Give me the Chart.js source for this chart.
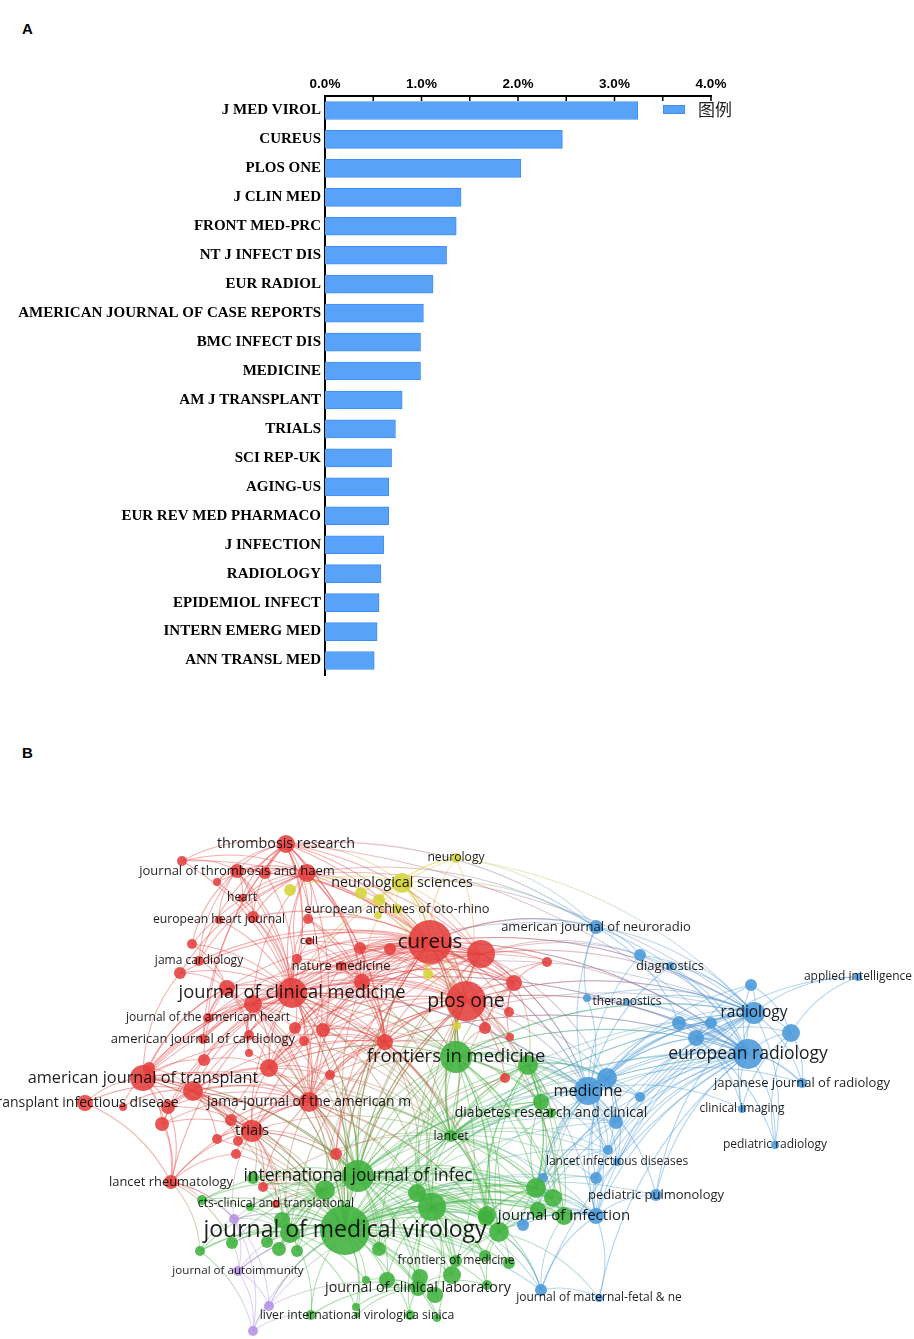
<!DOCTYPE html>
<html><head><meta charset="utf-8">
<script src="https://cdn.jsdelivr.net/npm/chart.js@4.4.1/dist/chart.umd.min.js"></script>
<style>
html,body{margin:0;padding:0;background:#fff;width:914px;height:1339px;overflow:hidden}
.tag{position:absolute;font:bold 15px "Liberation Sans",Arial,sans-serif;color:#000;line-height:18px}
#wa{position:absolute;left:0;top:0;width:914px;height:700px}
#wb{position:absolute;left:0;top:780px;width:914px;height:559px}
</style></head><body>
<div class="tag" style="left:22px;top:20px">A</div>
<div class="tag" style="left:22px;top:744px">B</div>
<div id="wa"><canvas id="ca"></canvas></div>
<div id="wb"><canvas id="cb"></canvas></div>
<script>
// ---------- Panel A data ----------
const journals = ['J MED VIROL','CUREUS','PLOS ONE','J CLIN MED','FRONT MED-PRC','NT J INFECT DIS','EUR RADIOL',
  'AMERICAN JOURNAL OF CASE REPORTS','BMC INFECT DIS','MEDICINE','AM J TRANSPLANT','TRIALS','SCI REP-UK','AGING-US',
  'EUR REV MED PHARMACO','J INFECTION','RADIOLOGY','EPIDEMIOL INFECT','INTERN EMERG MED','ANN TRANSL MED'];
const shares = [3.24,2.46,2.03,1.41,1.36,1.26,1.12,1.02,0.99,0.99,0.80,0.73,0.69,0.66,0.66,0.61,0.58,0.56,0.54,0.51];
const tickLabels = ['0.0%','1.0%','2.0%','3.0%','4.0%'];
const legendLabel = '图例';

const nodeX = [286,237,265,307,182,217,242,253,219,308, 309,360,390,430,481,547,514,199,192,180,
 341,297,362,292,227,253,466,509,485,510, 208,203,295,304,323,385,249,249,204,269,
 330,505,143,149,193,85,123,168,309,162, 231,252,217,238,236,336,171,263,276,
 456,402,361,379,397,378,290,428,457,
 596,640,670,627,587,858,751,754,791,679, 711,696,748,588,607,640,616,802,742,775, 608,617,596,656,543,596,523,541,599,
 456,528,551,541,451,358,325,417,432,487, 536,553,564,538,499,253,250,202,345,290,
 282,232,267,279,297,200,379,456,420,452, 366,387,418,435,356,357,311,410,437,486, 485,509,487,
 234,238,269,253];
const nodeY = [844,871,873,873,861,882,898,917,920,919, 941,948,949,942,954,962,983,961,944,973,
 966,959,982,993,988,1004,1001,1012,1028,1037, 1018,1039,1028,1041,1030,1042,1035,1053,1060,1068,
 1075,1078,1078,1068,1091,1103,1107,1107,1102,1124, 1120,1131,1139,1141,1154,1154,1182,1187,1204,
 858,883,893,900,909,915,890,974,1026,
 927,955,966,1002,998,977,985,1013,1033,1023, 1023,1038,1054,1091,1078,1097,1122,1083,1109,1145, 1150,1162,1178,1195,1178,1216,1225,1290,1298,
 1057,1065,1113,1102,1136,1176,1190,1193,1207,1215, 1188,1198,1216,1210,1232,1178,1207,1200,1230,1233,
 1220,1243,1242,1249,1251,1251,1249,1261,1277,1275, 1280,1280,1288,1295,1307,1315,1315,1315,1318,1218, 1256,1263,1285,
 1219,1271,1306,1331];
const nodeWeight = [9,7,6,9,5,4,4,6,4,5, 4,6,6,22,14,5,8,5,5,6,
 5,5,8,15,8,9,20,5,6,4, 5,5,6,5,7,8,5,4,6,9,
 5,5,13,6,10,8,4,7,10,7, 6,11,5,5,5,6,7,5,4,
 5,10,6,6,5,4,6,5,4,
 7,6,4,3,4,4,6,11,9,7, 6,8,15,14,10,5,7,5,4,4, 5,4,6,6,5,8,6,6,4,
 16,10,5,8,6,16,10,9,14,9, 10,9,9,8,10,6,4,5,25,10,
 8,6,6,7,6,5,7,6,8,9, 4,8,8,8,4,3,5,5,4,8, 6,6,5,
 5,5,5,5];
// 0 red, 1 green, 2 blue, 3 yellow, 4 purple
const nodeCluster = [0,0,0,0,0,0,0,0,0,0, 0,0,0,0,0,0,0,0,0,0, 0,0,0,0,0,0,0,0,0,0, 0,0,0,0,0,0,0,0,0,0,
 0,0,0,0,0,0,0,0,0,0, 0,0,0,0,0,0,0,0,0,
 3,3,3,3,3,3,3,3,3,
 2,2,2,2,2,2,2,2,2,2, 2,2,2,2,2,2,2,2,2,2, 2,2,2,2,2,2,2,2,2,
 1,1,1,1,1,1,1,1,1,1, 1,1,1,1,1,1,1,1,1,1, 1,1,1,1,1,1,1,1,1,1, 1,1,1,1,1,1,1,1,1,1, 1,1,1,
 4,4,4,4];
// labelled nodes: index -> journal name, and label font size
const nodeLabelAt = {0:'thrombosis research',1:'journal of thrombosis and haem',6:'heart',8:'european heart journal',
 10:'cell',13:'cureus',17:'jama cardiology',20:'nature medicine',23:'journal of clinical medicine',26:'plos one',
 30:'journal of the american heart',31:'american journal of cardiology',42:'american journal of transplant',
 45:'transplant infectious disease',48:'jama-journal of the american m',51:'trials',56:'lancet rheumatology',
 58:'cts-clinical and translational',59:'neurology',60:'neurological sciences',63:'european archives of oto-rhino',
 68:'american journal of neuroradio',70:'diagnostics',71:'theranostics',73:'applied intelligence',75:'radiology',
 80:'european radiology',81:'medicine',85:'japanese journal of radiology',86:'clinical imaging',87:'pediatric radiology',
 89:'lancet infectious diseases',91:'pediatric pulmonology',96:'journal of maternal-fetal & ne',97:'frontiers in medicine',
 99:'diabetes research and clinical',101:'lancet',102:'international journal of infec',109:'journal of infection',
 115:'journal of medical virology',124:'frontiers of medicine',129:'journal of clinical laboratory',
 132:'liver international virologica sinica',141:'journal of autoimmunity'};
const labelSize = {0:14.3,1:13,6:12,8:12.2,10:11.5,13:20.5,17:12,20:13,23:18.3,26:19.5,30:12,31:13,42:16.3,45:14,48:13.9,
 51:14.8,56:12.9,58:12.1,59:12.2,60:14.3,63:12.8,68:13,70:13,71:12,73:12,75:15.5,80:17.5,81:16.2,85:13,86:12,87:12,
 89:12,91:13,96:12,97:18.5,99:14,101:12.5,102:17.3,109:15,115:23,124:12,129:14.3,132:12.3,141:11.6};
// co-citation links: [node, [linked nodes]]
const links = [
 [13,[0,1,2,3,4,7,9,10,11,12,14,16,17,19,20,21,22,23,24,25,26,27,28,30,31,32,34,35,39,42,44,48,51,55,60,62,66,97,102,115,101,68,75,80,81,109]],
 [23,[0,1,2,3,4,5,6,7,8,9,10,11,14,17,18,19,20,21,22,24,25,26,30,31,32,33,34,35,36,38,39,42,43,44,47,48,49,51,56,97,102,115,101,105,81,80]],
 [26,[0,3,10,11,12,14,15,16,20,22,24,25,27,28,29,32,34,35,39,40,41,48,51,97,98,100,101,102,104,105,115,81,82,75,80,93,109,60,66,67]],
 [35,[0,3,9,10,14,16,20,22,24,25,32,33,34,39,40,42,44,48,51,55,97,101,102,105,115,103,75,80,81,104,106,111,136,116]],
 [48,[0,1,3,14,20,22,24,25,33,36,39,40,42,44,47,49,50,51,52,53,55,56,57,97,101,102,103,105,115,116,136,104,123,111]],
 [42,[43,44,45,46,47,49,50,51,38,24,19,25,56,14,102,115]],
 [0,[1,2,3,4,5,6,7,9,21,14,22,30,31,17,60]],
 [51,[44,47,49,50,52,53,54,55,56,57,58,102,103,115,116,117,112]],
 [14,[3,11,12,15,16,20,22,25,32,34,39,97,101,102,115,66,75,80,81,82,69,70]],
 [3,[1,2,4,5,6,7,9,21,17,18,19,25]],
 [1,[2,4,5,6,7,8,17,18]],
 [24,[17,18,19,30,31,36,37,38,43]],
 [25,[30,31,36,37,39,33]],
 [22,[3,9,10,11,12,16,20,21,32,34,35,39,97,102]],
 [39,[32,33,34,36,37,38,40,44,47,50,51,97,102,115]],
 [44,[38,43,45,46,47,49,50,52,53,102,115,116]],
 [16,[11,12,15,20,22,27,28,29,97,98,101]],
 [56,[45,47,49,54,114,118,122,140]],
 [115,[97,98,100,101,102,103,104,105,106,107,108,109,110,111,112,113,114,116,117,118,119,120,121,122,123,124,125,126,127,128,129,130,131,132,133,134,135,136,137,138,139,140,141,142,92,93,94,95,81,84,88,90,91,80,75,55,57,58,52,53,54,23,13,26,39,44,42,25,24]],
 [102,[97,98,100,101,103,104,105,106,107,108,109,110,111,112,113,114,116,117,119,120,121,123,124,125,126,128,129,136,137,81,84,93,94,55,57,40,41,23,13,26,39,44,51,42,25]],
 [97,[98,99,100,101,103,104,105,106,107,108,109,111,123,124,136,81,82,83,84,88,75,80,40,41,28,29,67,23,13,26,39,22,25,34]],
 [101,[98,99,100,104,105,106,107,108,109,110,111,136,81,82,84,88,89,90,92,93,75,80,40,41,55,57,23,26,13,39,44,22,25,34,33,51,42]],
 [105,[104,106,107,108,109,110,111,123,124,125,126,128,129,130,134,135,136,137,138,139]],
 [111,[106,107,108,109,110,124,126,137,138,139,93,94,95,96]],
 [129,[125,126,127,128,130,131,132,133,134,135,123,139]],
 [103,[104,112,113,114,116,117,118,119,120,121,122,123,57,58]],
 [104,[106,107,108,109,111,123,124,126,136,137,98,100]],
 [116,[112,113,114,117,118,119,120,121,122,127,131,133,140,141]],
 [107,[98,100,106,108,109,110,136,92,93,94,88,90,84]],
 [98,[99,100,106,107,108,109,110,111,136,82,84,88]],
 [75,[73,74,76,77,78,79,80,68,69,70,71,72,81,82,85,86,87,83,84,91,89,88,90,93,94,13,26,23,97,115,102,3]],
 [80,[74,76,77,78,79,85,86,87,68,69,70,71,72,81,82,83,84,88,89,90,91,92,93,94,95,96,13,26,23,35,97,115,102,105,0]],
 [81,[82,83,84,88,89,90,91,92,93,68,69,70,72,77,78,79,85,86,98,100,107,108,13,23,14]],
 [82,[74,77,78,79,83,84,88,89,90,92,93,107,98]],
 [79,[74,76,77,78,85,86,87,73]],
 [76,[74,85,86,87,73]],
 [68,[0,3,13,23,59,60,69,72,77]],
 [93,[90,91,94,95,96,88,89,107,108,109,110]],
 [95,[96,111,106,105,109]],
 [60,[59,61,62,63,64,65,66,67,13,23,26,14,22]],
 [59,[13,23,26,62,75]],
 [66,[13,26,97,61,62,63]],
 [140,[141,142,143,115,102,51,56,114,122]],
 [141,[142,143,115,105,118]],
 [142,[143,115,105,129]],
 [143,[115,133,122]]
];
const clusterRGB = [[228,64,62],[64,178,62],[74,152,218],[214,212,58],[182,146,228]];

Chart.defaults.font.family = '"Liberation Sans", Arial, sans-serif';

// ---------- Panel A ----------
const tickMarks = {
  id:'tickMarks',
  afterDraw(chart){
    const {ctx, scales:{x}, chartArea} = chart;
    ctx.save(); ctx.strokeStyle='#000'; ctx.lineWidth=1.5;
    x.ticks.forEach(t=>{ const px=x.getPixelForValue(t.value); ctx.beginPath(); ctx.moveTo(px,chartArea.top); ctx.lineTo(px,chartArea.top+5); ctx.stroke(); });
    ctx.restore();
  }
};
const boxLegend = {
  id:'boxLegend',
  afterDraw(chart){
    const {ctx, chartArea} = chart; const ds = chart.data.datasets[0];
    ctx.save();
    ctx.fillStyle = ds.backgroundColor; ctx.strokeStyle = ds.borderColor; ctx.lineWidth=1;
    const bx = chartArea.right-48, by = chartArea.top+9;
    ctx.fillRect(bx,by,22,9); ctx.strokeRect(bx+0.5,by+0.5,21,8);
    ctx.fillStyle='#222'; ctx.font='17px "Noto Sans CJK SC", sans-serif'; ctx.textBaseline='middle'; ctx.textAlign='left';
    ctx.fillText(ds.label, bx+35, by+5);
    ctx.restore();
  }
};
new Chart(document.getElementById('ca'), {
  type:'bar',
  data:{labels:journals, datasets:[{label:legendLabel, data:shares, backgroundColor:'#59a2fa', borderColor:'#3f8ff3', borderWidth:1, barThickness:18}]},
  options:{
    indexAxis:'y', responsive:true, maintainAspectRatio:false, animation:false,
    layout:{padding:{left:0,right:203,top:0,bottom:25}},
    plugins:{legend:{display:false}, tooltip:{enabled:false}},
    scales:{
      x:{position:'top', min:0, max:4,
         ticks:{stepSize:0.5, autoSkip:false, maxRotation:0, color:'#000', padding:4,
                font:{family:'"Liberation Sans", Arial, sans-serif', weight:'bold', size:13.5},
                callback:(v)=> Number.isInteger(v) ? tickLabels[v] : ''},
         grid:{display:false, drawTicks:false},
         border:{display:true, color:'#000', width:2},
         afterFit(s){ s.height = 96; }},
      y:{ticks:{autoSkip:false, color:'#000', padding:4, font:{family:'"Liberation Serif", "Times New Roman", serif', weight:'bold', size:15}},
         grid:{display:false, drawTicks:false},
         border:{display:true, color:'#000', width:2},
         afterFit(s){ s.width = 325; }}
    }
  },
  plugins:[tickMarks, boxLegend]
});

// ---------- Panel B ----------
function rgba(c,a){return 'rgba('+c[0]+','+c[1]+','+c[2]+','+a+')';}
const edgesPlugin = {
  id:'edges',
  beforeDatasetsDraw(chart){
    const {ctx, scales:{x,y}} = chart;
    ctx.save(); ctx.lineWidth = 1.1;
    links.forEach(([h,list])=>{
      list.forEach(n=>{
        let a=h,b=n; if(nodeX[a]>nodeX[b]){a=n;b=h;}
        const x1=x.getPixelForValue(nodeX[a]), y1=y.getPixelForValue(nodeY[a]);
        const x2=x.getPixelForValue(nodeX[b]), y2=y.getPixelForValue(nodeY[b]);
        const ca=clusterRGB[nodeCluster[a]], cb=clusterRGB[nodeCluster[b]];
        const dx=x2-x1, dy=y2-y1;
        const cx=(x1+x2)/2 + 0.18*dy, cy=(y1+y2)/2 - 0.18*dx;
        if(nodeCluster[a]===nodeCluster[b]){
          ctx.strokeStyle = rgba(ca, 0.42);
        } else {
          const g = ctx.createLinearGradient(x1,y1,x2,y2);
          g.addColorStop(0, rgba(ca,0.38)); g.addColorStop(1, rgba(cb,0.38));
          ctx.strokeStyle = g;
        }
        ctx.beginPath(); ctx.moveTo(x1,y1); ctx.quadraticCurveTo(cx,cy,x2,y2); ctx.stroke();
      });
    });
    ctx.restore();
  }
};
const labelsPlugin = {
  id:'nodeLabels',
  afterDatasetsDraw(chart){
    const {ctx, scales:{x,y}} = chart;
    ctx.save(); ctx.textAlign='center'; ctx.textBaseline='middle'; ctx.fillStyle='rgba(0,0,0,0.88)';
    Object.keys(nodeLabelAt).forEach(k=>{
      const i=+k;
      ctx.font = (labelSize[i]||12)+'px "Open Sans", "Noto Sans", sans-serif';
      ctx.fillText(nodeLabelAt[i], x.getPixelForValue(nodeX[i]), y.getPixelForValue(nodeY[i]));
    });
    ctx.restore();
  }
};
const clusterDatasets = clusterRGB.map((c,ci)=>({
  label:'cluster '+(ci+1),
  data: nodeX.map((v,i)=>({x:v, y:nodeY[i], r:nodeWeight[i], c:nodeCluster[i]})).filter(p=>p.c===ci),
  backgroundColor: rgba(c,0.88), borderWidth:0, hoverRadius:0
}));
new Chart(document.getElementById('cb'), {
  type:'bubble',
  data:{datasets:clusterDatasets},
  options:{
    responsive:true, maintainAspectRatio:false, animation:false,
    layout:{padding:0, autoPadding:false},
    plugins:{legend:{display:false}, tooltip:{enabled:false}},
    scales:{
      x:{type:'linear', min:0, max:914, display:false},
      y:{type:'linear', min:780, max:1339, reverse:true, display:false}
    }
  },
  plugins:[edgesPlugin, labelsPlugin]
});
</script>
</body></html>
